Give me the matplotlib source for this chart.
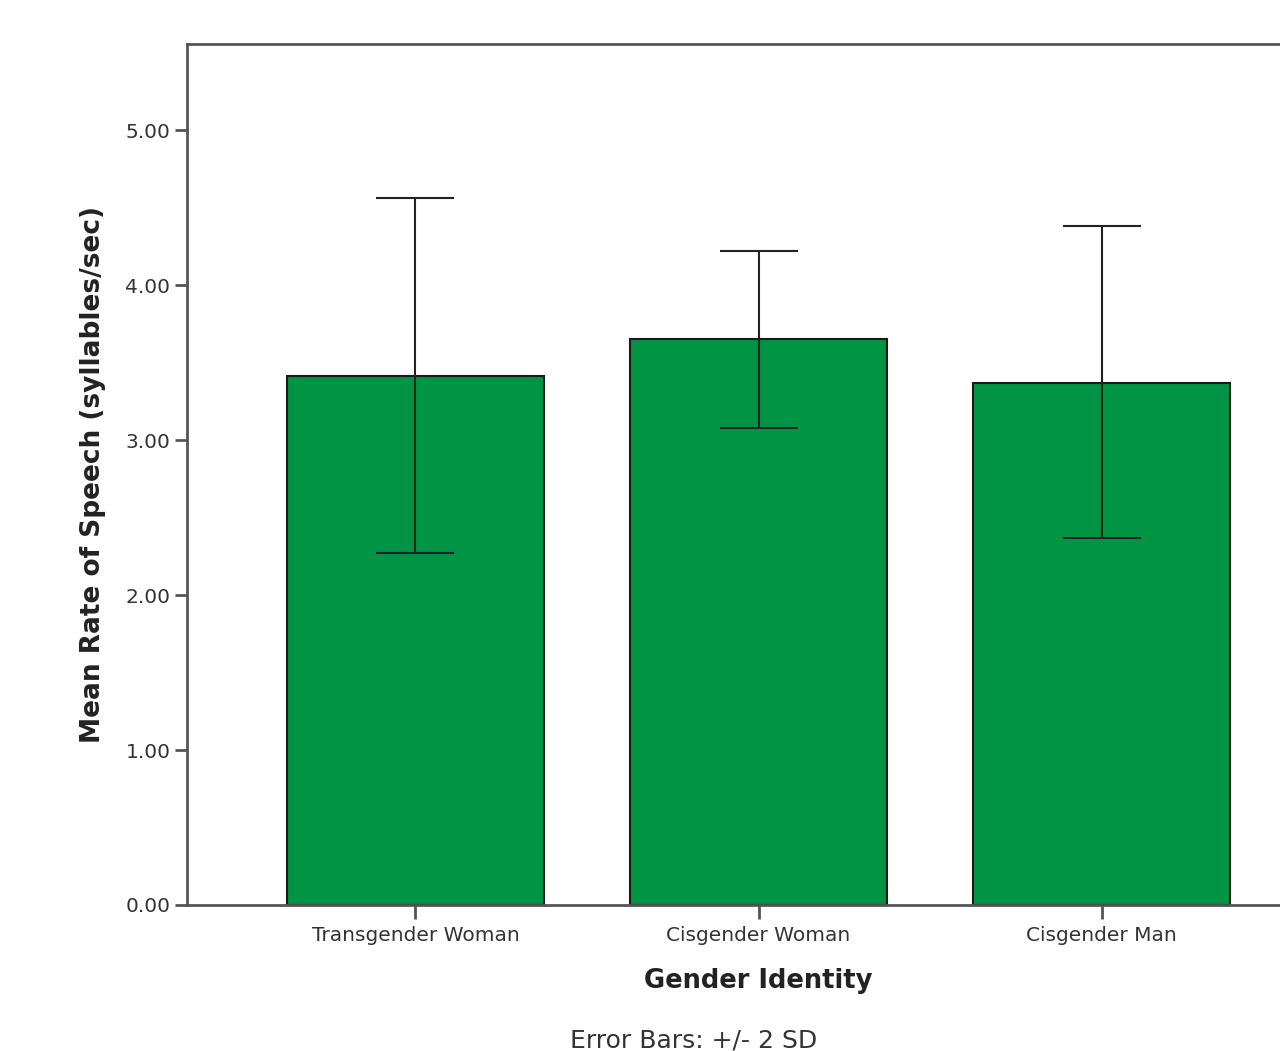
import matplotlib
matplotlib.use("Agg")
import matplotlib.pyplot as plt

categories = ["Transgender Woman", "Cisgender Woman", "Cisgender Man"]
means = [3.41, 3.65, 3.37]
err_upper = [4.56, 4.22, 4.38]
err_lower = [2.27, 3.08, 2.37]
yticks = [0.0, 1.0, 2.0, 3.0, 4.0, 5.0]

plt.rcParams['font.family'] = ['DejaVu Sans']

fig = plt.figure(figsize=(12.8, 10.51), dpi=100)
ax = fig.add_axes([187/1280, 146/1051, 1143/1280, 861/1051])

x = list(range(len(categories)))
yerr = [[m - l for m, l in zip(means, err_lower)], [u - m for m, u in zip(means, err_upper)]]
ax.bar(x, means, width=0.75, color="#009444", edgecolor="#1a1a1a", linewidth=1.5, zorder=2)
ax.errorbar(x, means, yerr=yerr, fmt='none', ecolor="#222222", elinewidth=1.5,
            capsize=28, capthick=1.5, zorder=3)

ax.set_xlim(-0.666, 2.666)
ax.set_ylim(0, 5.555)
ax.set_yticks(yticks)
ax.set_yticklabels([f"{v:.2f}" for v in yticks])
ax.set_xticks(x)
ax.set_xticklabels(categories)

for s in ax.spines.values():
    s.set_color("#555555")
    s.set_linewidth(2)
ax.spines['right'].set_visible(False)

ax.tick_params(axis='both', colors="#555555", width=2, length=9, labelsize=14.5,
               labelcolor="#333333")
ax.tick_params(axis='x', length=10, pad=5)
ax.tick_params(axis='y', pad=3)

ax.set_xlabel("Gender Identity", fontsize=18.5, fontweight='bold', color="#222222", labelpad=17)
ax.set_ylabel("Mean Rate of Speech (syllables/sec)", fontsize=19, fontweight='bold',
              color="#222222", labelpad=14)

fig.text(694/1280, 1 - 1040/1051, "Error Bars: +/- 2 SD", ha='center', va='center',
         fontsize=18, color="#333333")

fig.savefig("out.png", dpi=100, facecolor="white")
